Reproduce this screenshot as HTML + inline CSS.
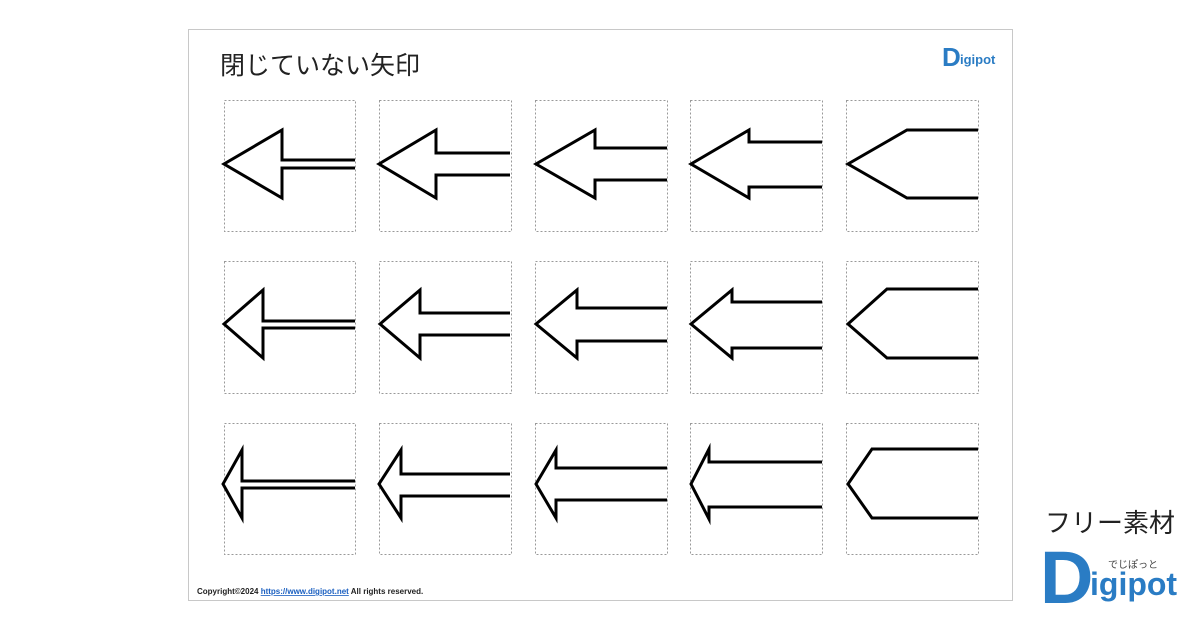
<!DOCTYPE html>
<html><head><meta charset="utf-8"><style>
html,body{margin:0;padding:0;background:#fff;width:1200px;height:630px;overflow:hidden;}
</style></head><body>
<svg width="1200" height="630" viewBox="0 0 1200 630" xmlns="http://www.w3.org/2000/svg">
<rect x="188.5" y="29.5" width="824" height="571" fill="#fff" stroke="#c8c8c8" stroke-width="1"/>
<text x="220" y="74" font-family="Liberation Sans, Noto Sans CJK JP, sans-serif" font-size="25" fill="#222">閉じていない矢印</text>
<g fill="none" stroke="#999" stroke-width="1" stroke-dasharray="2,2">
<rect x="224.5" y="100.5" width="131" height="131"/><rect x="379.5" y="100.5" width="132" height="131"/><rect x="535.5" y="100.5" width="132" height="131"/><rect x="690.5" y="100.5" width="132" height="131"/><rect x="846.5" y="100.5" width="132" height="131"/>
<rect x="224.5" y="261.5" width="131" height="132"/><rect x="379.5" y="261.5" width="132" height="132"/><rect x="535.5" y="261.5" width="132" height="132"/><rect x="690.5" y="261.5" width="132" height="132"/><rect x="846.5" y="261.5" width="132" height="132"/>
<rect x="224.5" y="423.5" width="131" height="131"/><rect x="379.5" y="423.5" width="132" height="131"/><rect x="535.5" y="423.5" width="132" height="131"/><rect x="690.5" y="423.5" width="132" height="131"/><rect x="846.5" y="423.5" width="132" height="131"/>
</g>
<g fill="none" stroke="#000" stroke-width="3" stroke-linejoin="miter" stroke-miterlimit="10">
<polyline points="355,160 282,160 282,130 224,164 282,198 282,168 355,168"/>
<polyline points="510,153 436,153 436,130 379,164 436,198 436,175 510,175"/>
<polyline points="667,148 595,148 595,130 536,164 595,198 595,180 667,180"/>
<polyline points="822,142 749,142 749,130 691,164 749,198 749,187 822,187"/>
<polyline points="978,130 907,130 848,164 907,198 978,198"/>

<polyline points="355,321 263,321 263,290 224,324 263,358 263,328 355,328"/>
<polyline points="510,313 420,313 420,290 380,324 420,358 420,335 510,335"/>
<polyline points="667,308 577,308 577,290 536,324 577,358 577,341 667,341"/>
<polyline points="822,302 732,302 732,290 691,324 732,358 732,348 822,348"/>
<polyline points="978,289 887,289 848,324 887,358 978,358"/>

<polyline points="355,481 242,481 242,450 223,484 242,518 242,488 355,488"/>
<polyline points="510,474 401,474 401,450 379,484 401,518 401,496 510,496"/>
<polyline points="667,468 556,468 556,450 536,484 556,518 556,500 667,500"/>
<polyline points="822,462 709,462 709,449 691,484 709,519 709,507 822,507"/>
<polyline points="978,449 872,449 848,484 872,518 978,518"/>
</g>
<text x="197" y="594" font-family="Liberation Sans, sans-serif" font-size="8" font-weight="bold" fill="#222">Copyright©2024 <tspan fill="#1a5fc0" text-decoration="underline">https://www.digipot.net</tspan> All rights reserved.</text>
<text x="942" y="66" font-family="Liberation Sans, sans-serif" font-size="26" font-weight="bold" fill="#2a7cc4">D</text>
<text x="960" y="64" font-family="Liberation Sans, sans-serif" font-size="13" font-weight="bold" fill="#2a7cc4">igipot</text>
<text x="1045" y="532" font-family="Liberation Sans, Noto Sans CJK JP, sans-serif" font-size="26" fill="#222">フリー素材</text>
<text x="1040" y="603" font-family="Liberation Sans, sans-serif" font-size="74" font-weight="bold" fill="#2a7cc4">D</text>
<text x="1090" y="595" font-family="Liberation Sans, sans-serif" font-size="32" font-weight="bold" fill="#2a7cc4">igipot</text>
<text x="1108" y="568" font-family="Liberation Sans, Noto Sans CJK JP, sans-serif" font-size="10" fill="#444">でじぽっと</text>
</svg>
</body></html>
